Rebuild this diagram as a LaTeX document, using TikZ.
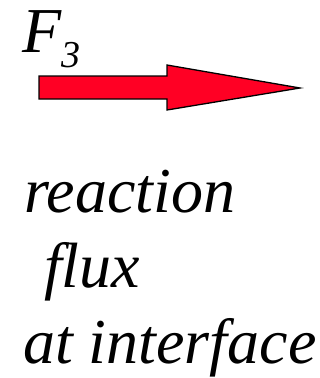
\documentclass[tikz,border=0pt]{standalone}
\usepackage{fontspec}
\setmainfont{Liberation Serif}
\definecolor{arrowred}{RGB}{255,0,36}
\tikzset{
  lbl/.style={inner sep=0pt, anchor=base west, font=\fontsize{64}{64}\selectfont\itshape},
  fluxarrow/.style={draw=black, line width=1.3pt, fill=arrowred, line join=miter}
}
\begin{document}
\begin{tikzpicture}[x=1pt,y=-1pt]
\useasboundingbox (0,0) rectangle (320,378);
\node[lbl] (F) at (22,52) {F\raisebox{-15pt}{\fontsize{38}{38}\selectfont 3}};
\draw[fluxarrow] (39,76) -- (167,76) -- (167,65) -- (300,88) -- (167,110) -- (167,99) -- (39,99) -- cycle;
\node[lbl] (l1) at (24,212) {reaction};
\node[lbl] (l2) at (44,287) {flux};
\node[lbl] (l3) at (23,363) {at interface};
\end{tikzpicture}
\end{document}
